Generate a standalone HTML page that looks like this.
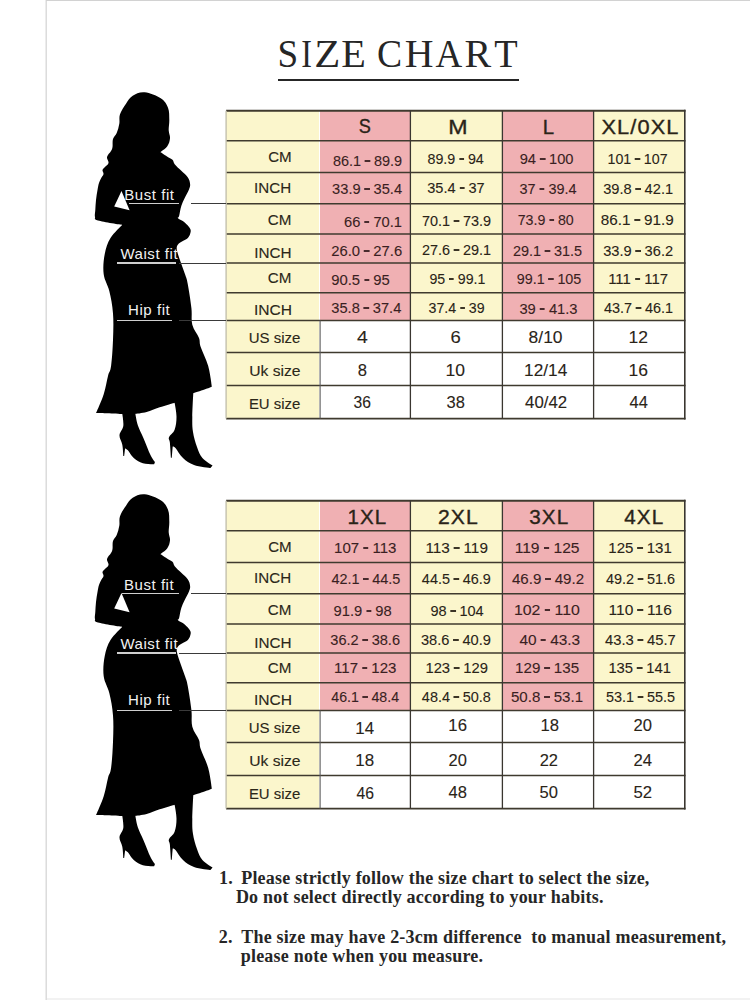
<!DOCTYPE html><html><head><meta charset="utf-8"><style>
html,body{margin:0;padding:0;background:#fff;}
body{width:750px;height:1000px;position:relative;overflow:hidden;font-family:"Liberation Sans", sans-serif;}
.a{position:absolute;white-space:nowrap;}
.c{position:absolute;white-space:nowrap;text-align:center;width:200px;}
.lab{font-family:"Liberation Sans", sans-serif;font-size:14px;line-height:14px;color:#2b2719;-webkit-text-stroke:0.12px #2b2719;}
.num{font-family:"Liberation Sans", sans-serif;font-size:15.2px;line-height:15.2px;color:#2a2418;-webkit-text-stroke:0.1px #2a2418;}
.pk{color:#3a1f22;-webkit-text-stroke-color:#3a1f22;}
.hd{font-family:"Liberation Sans", sans-serif;font-size:20px;line-height:20px;color:#2a2418;letter-spacing:1px;-webkit-text-stroke:0.35px #2a2418;}
.fit{font-family:"Liberation Sans", sans-serif;font-size:15px;line-height:15px;color:#f2f2f2;letter-spacing:0.55px;}
.ttl{font-family:"Liberation Serif", serif;font-size:40px;line-height:40px;color:#262626;}
.note{font-family:"Liberation Serif", serif;font-weight:bold;font-size:18px;line-height:18px;color:#262626;letter-spacing:0.22px;}
.big{font-size:16.5px;line-height:16.5px;-webkit-text-stroke-width:0.1px;}
.d{display:inline-block;width:5.5px;height:2px;background:currentColor;vertical-align:3.87px;margin:0 4px;opacity:0.92}
</style></head><body>
<div class="a" style="left:45px;top:0;width:2px;height:1000px;background:#ececec"></div>
<div class="a" style="left:46px;top:0;width:1px;height:1000px;background:#dcdcdc"></div>
<div class="a" style="left:46px;top:0;width:704px;height:1px;background:#d2d2d2"></div>
<div class="a" style="left:47px;top:998px;width:703px;height:2px;background:#f2f2f2"></div>
<div class="a" style="left:278px;top:78.5px;width:241px;height:2px;background:#262626"></div>
<div class="c ttl" style="left:188.2px;top:33.2px;transform:translate(-0.24px,0.56px) scaleX(0.929);">S</div>
<div class="c ttl" style="left:206.5px;top:33.2px;transform:translate(-0.36px,0.56px) scaleX(0.800);">I</div>
<div class="c ttl" style="left:227.2px;top:33.2px;transform:translate(0.16px,0.56px) scaleX(1.066);">Z</div>
<div class="c ttl" style="left:253.2px;top:33.2px;transform:translate(0.56px,0.56px) scaleX(1.006);">E</div>
<div class="c ttl" style="left:289.2px;top:33.2px;transform:translate(0.56px,0.56px) scaleX(0.941);">C</div>
<div class="c ttl" style="left:319.1px;top:33.2px;transform:translate(0.08px,0.56px) scaleX(0.994);">H</div>
<div class="c ttl" style="left:348.9px;top:33.2px;transform:translate(-0.08px,0.56px) scaleX(0.926);">A</div>
<div class="c ttl" style="left:378.8px;top:33.2px;transform:translate(-0.96px,0.56px) scaleX(1.000);">R</div>
<div class="c ttl" style="left:406.0px;top:33.2px;transform:translate(0.00px,0.56px) scaleX(0.958);">T</div>
<div class="a" style="left:226.1px;top:110.7px;width:93.4px;height:30.1px;background:#fbf6cc"></div>
<div class="a" style="left:319.5px;top:110.7px;width:90.9px;height:30.1px;background:#f0b0b3"></div>
<div class="a" style="left:410.4px;top:110.7px;width:92.0px;height:30.1px;background:#fbf6cc"></div>
<div class="a" style="left:502.4px;top:110.7px;width:91.2px;height:30.1px;background:#f0b0b3"></div>
<div class="a" style="left:593.6px;top:110.7px;width:91.2px;height:30.1px;background:#fbf6cc"></div>
<div class="a" style="left:226.1px;top:140.8px;width:93.4px;height:31.7px;background:#fbf6cc"></div>
<div class="a" style="left:319.5px;top:140.8px;width:90.9px;height:31.7px;background:#f0b0b3"></div>
<div class="a" style="left:410.4px;top:140.8px;width:92.0px;height:31.7px;background:#fbf6cc"></div>
<div class="a" style="left:502.4px;top:140.8px;width:91.2px;height:31.7px;background:#f0b0b3"></div>
<div class="a" style="left:593.6px;top:140.8px;width:91.2px;height:31.7px;background:#fbf6cc"></div>
<div class="a" style="left:226.1px;top:172.5px;width:93.4px;height:31.2px;background:#fbf6cc"></div>
<div class="a" style="left:319.5px;top:172.5px;width:90.9px;height:31.2px;background:#f0b0b3"></div>
<div class="a" style="left:410.4px;top:172.5px;width:92.0px;height:31.2px;background:#fbf6cc"></div>
<div class="a" style="left:502.4px;top:172.5px;width:91.2px;height:31.2px;background:#f0b0b3"></div>
<div class="a" style="left:593.6px;top:172.5px;width:91.2px;height:31.2px;background:#fbf6cc"></div>
<div class="a" style="left:226.1px;top:203.7px;width:93.4px;height:30.4px;background:#fbf6cc"></div>
<div class="a" style="left:319.5px;top:203.7px;width:90.9px;height:30.4px;background:#f0b0b3"></div>
<div class="a" style="left:410.4px;top:203.7px;width:92.0px;height:30.4px;background:#fbf6cc"></div>
<div class="a" style="left:502.4px;top:203.7px;width:91.2px;height:30.4px;background:#f0b0b3"></div>
<div class="a" style="left:593.6px;top:203.7px;width:91.2px;height:30.4px;background:#fbf6cc"></div>
<div class="a" style="left:226.1px;top:234.1px;width:93.4px;height:28.9px;background:#fbf6cc"></div>
<div class="a" style="left:319.5px;top:234.1px;width:90.9px;height:28.9px;background:#f0b0b3"></div>
<div class="a" style="left:410.4px;top:234.1px;width:92.0px;height:28.9px;background:#fbf6cc"></div>
<div class="a" style="left:502.4px;top:234.1px;width:91.2px;height:28.9px;background:#f0b0b3"></div>
<div class="a" style="left:593.6px;top:234.1px;width:91.2px;height:28.9px;background:#fbf6cc"></div>
<div class="a" style="left:226.1px;top:263.0px;width:93.4px;height:29.7px;background:#fbf6cc"></div>
<div class="a" style="left:319.5px;top:263.0px;width:90.9px;height:29.7px;background:#f0b0b3"></div>
<div class="a" style="left:410.4px;top:263.0px;width:92.0px;height:29.7px;background:#fbf6cc"></div>
<div class="a" style="left:502.4px;top:263.0px;width:91.2px;height:29.7px;background:#f0b0b3"></div>
<div class="a" style="left:593.6px;top:263.0px;width:91.2px;height:29.7px;background:#fbf6cc"></div>
<div class="a" style="left:226.1px;top:292.7px;width:93.4px;height:27.9px;background:#fbf6cc"></div>
<div class="a" style="left:319.5px;top:292.7px;width:90.9px;height:27.9px;background:#f0b0b3"></div>
<div class="a" style="left:410.4px;top:292.7px;width:92.0px;height:27.9px;background:#fbf6cc"></div>
<div class="a" style="left:502.4px;top:292.7px;width:91.2px;height:27.9px;background:#f0b0b3"></div>
<div class="a" style="left:593.6px;top:292.7px;width:91.2px;height:27.9px;background:#fbf6cc"></div>
<div class="a" style="left:226.1px;top:320.6px;width:93.4px;height:32.0px;background:#fbf6cc"></div>
<div class="a" style="left:319.5px;top:320.6px;width:90.9px;height:32.0px;background:#ffffff"></div>
<div class="a" style="left:410.4px;top:320.6px;width:92.0px;height:32.0px;background:#ffffff"></div>
<div class="a" style="left:502.4px;top:320.6px;width:91.2px;height:32.0px;background:#ffffff"></div>
<div class="a" style="left:593.6px;top:320.6px;width:91.2px;height:32.0px;background:#ffffff"></div>
<div class="a" style="left:226.1px;top:352.6px;width:93.4px;height:32.8px;background:#fbf6cc"></div>
<div class="a" style="left:319.5px;top:352.6px;width:90.9px;height:32.8px;background:#ffffff"></div>
<div class="a" style="left:410.4px;top:352.6px;width:92.0px;height:32.8px;background:#ffffff"></div>
<div class="a" style="left:502.4px;top:352.6px;width:91.2px;height:32.8px;background:#ffffff"></div>
<div class="a" style="left:593.6px;top:352.6px;width:91.2px;height:32.8px;background:#ffffff"></div>
<div class="a" style="left:226.1px;top:385.4px;width:93.4px;height:33.2px;background:#fbf6cc"></div>
<div class="a" style="left:319.5px;top:385.4px;width:90.9px;height:33.2px;background:#ffffff"></div>
<div class="a" style="left:410.4px;top:385.4px;width:92.0px;height:33.2px;background:#ffffff"></div>
<div class="a" style="left:502.4px;top:385.4px;width:91.2px;height:33.2px;background:#ffffff"></div>
<div class="a" style="left:593.6px;top:385.4px;width:91.2px;height:33.2px;background:#ffffff"></div>
<svg class="a" style="left:0;top:0" width="750" height="1000"><line x1="226.1" y1="110.70" x2="685.5" y2="110.70" stroke="#3f3a2e" stroke-width="1.9"/><line x1="226.1" y1="140.80" x2="685.5" y2="140.80" stroke="#3f3a2e" stroke-width="1.5"/><line x1="226.1" y1="172.50" x2="685.5" y2="172.50" stroke="#3f3a2e" stroke-width="1.5"/><line x1="226.1" y1="203.70" x2="685.5" y2="203.70" stroke="#3f3a2e" stroke-width="1.5"/><line x1="226.1" y1="234.10" x2="685.5" y2="234.10" stroke="#3f3a2e" stroke-width="1.5"/><line x1="226.1" y1="263.00" x2="685.5" y2="263.00" stroke="#3f3a2e" stroke-width="1.5"/><line x1="226.1" y1="292.70" x2="685.5" y2="292.70" stroke="#3f3a2e" stroke-width="1.5"/><line x1="226.1" y1="320.60" x2="685.5" y2="320.60" stroke="#3f3a2e" stroke-width="1.5"/><line x1="226.1" y1="352.60" x2="685.5" y2="352.60" stroke="#3f3a2e" stroke-width="1.5"/><line x1="226.1" y1="385.40" x2="685.5" y2="385.40" stroke="#3f3a2e" stroke-width="1.5"/><line x1="226.1" y1="418.60" x2="685.5" y2="418.60" stroke="#3f3a2e" stroke-width="1.9"/><line x1="226.10" y1="110.7" x2="226.10" y2="418.6" stroke="#c4c1ae" stroke-width="1.4"/><line x1="410.40" y1="110.7" x2="410.40" y2="418.6" stroke="#3a3630" stroke-width="1.3"/><line x1="502.40" y1="110.7" x2="502.40" y2="418.6" stroke="#3a3630" stroke-width="1.3"/><line x1="593.60" y1="110.7" x2="593.60" y2="418.6" stroke="#3a3630" stroke-width="1.3"/><line x1="684.80" y1="109.8" x2="684.80" y2="419.5" stroke="#3a3630" stroke-width="1.6"/><line x1="320.10" y1="320.6" x2="320.10" y2="418.6" stroke="#5a5a5a" stroke-width="1.1"/></svg>
<div class="c hd" style="left:265.2px;top:116px;transform:translateX(0.24px) scaleX(0.906);">S</div>
<div class="c hd" style="left:358.0px;top:117px;transform:translateX(0.40px) scaleX(1.159);">M</div>
<div class="c hd" style="left:449.0px;top:117px;transform:translateX(0.00px) scaleX(1.020);">L</div>
<div class="c hd" style="left:540.1px;top:117px;transform:translateX(0.48px) scaleX(1.088);">XL/0XL</div>
<div class="c lab" style="left:179.4px;top:150px;transform:translateX(0.88px) scaleX(1.079);">CM</div>
<div class="c lab" style="left:173.0px;top:181px;transform:translateX(-0.40px) scaleX(1.084);">INCH</div>
<div class="c lab" style="left:179.5px;top:213px;transform:translateX(-0.40px) scaleX(1.085);">CM</div>
<div class="c lab" style="left:172.9px;top:246px;transform:translateX(-0.16px) scaleX(1.091);">INCH</div>
<div class="c lab" style="left:179.5px;top:271px;transform:translateX(-0.40px) scaleX(1.085);">CM</div>
<div class="c lab" style="left:173.1px;top:303px;transform:translateX(0.08px) scaleX(1.113);">INCH</div>
<div class="c lab" style="left:174.9px;top:331px;transform:translateX(-0.48px) scaleX(1.069);">US size</div>
<div class="c lab" style="left:175.0px;top:364px;transform:translateX(-0.16px) scaleX(1.119);">Uk size</div>
<div class="c lab" style="left:175.0px;top:397px;transform:translateX(-0.40px) scaleX(1.064);">EU size</div>
<div class="c num pk" style="left:267.1px;top:153px;transform:translateX(0.48px) scaleX(0.950);">86.1<i class="d"></i>89.9</div>
<div class="c num" style="left:356.0px;top:151px;transform:translateX(-0.40px) scaleX(0.939);">89.9<i class="d"></i>94</div>
<div class="c num pk" style="left:446.5px;top:151px;transform:translateX(-0.40px) scaleX(0.966);">94<i class="d"></i>100</div>
<div class="c num" style="left:538.1px;top:151px;transform:translateX(-0.48px) scaleX(0.936);">101<i class="d"></i>107</div>
<div class="c num pk" style="left:267.4px;top:181px;transform:translateX(0.08px) scaleX(0.963);">33.9<i class="d"></i>35.4</div>
<div class="c num" style="left:356.0px;top:180px;transform:translateX(0.00px) scaleX(0.958);">35.4<i class="d"></i>37</div>
<div class="c num pk" style="left:448.4px;top:181px;transform:translateX(0.08px) scaleX(0.952);">37<i class="d"></i>39.4</div>
<div class="c num" style="left:538.6px;top:181px;transform:translateX(-0.88px) scaleX(0.963);">39.8<i class="d"></i>42.1</div>
<div class="c num pk" style="left:273.0px;top:214px;transform:translateX(0.00px) scaleX(0.968);">66<i class="d"></i>70.1</div>
<div class="c num" style="left:356.6px;top:213px;transform:translateX(-0.48px) scaleX(0.950);">70.1<i class="d"></i>73.9</div>
<div class="c num pk" style="left:445.9px;top:212px;transform:translateX(-0.32px) scaleX(0.935);">73.9<i class="d"></i>80</div>
<div class="c num" style="left:537.1px;top:212px;transform:translateX(0.32px) scaleX(1.005);">86.1<i class="d"></i>91.9</div>
<div class="c num pk" style="left:266.6px;top:243px;transform:translateX(-0.32px) scaleX(0.977);">26.0<i class="d"></i>27.6</div>
<div class="c num" style="left:356.6px;top:242px;transform:translateX(-0.48px) scaleX(0.950);">27.6<i class="d"></i>29.1</div>
<div class="c num pk" style="left:447.4px;top:243px;transform:translateX(0.48px) scaleX(0.949);">29.1<i class="d"></i>31.5</div>
<div class="c num" style="left:538.6px;top:243px;transform:translateX(-0.88px) scaleX(0.963);">33.9<i class="d"></i>36.2</div>
<div class="c num pk" style="left:260.6px;top:272px;transform:translateX(-0.48px) scaleX(0.976);">90.5<i class="d"></i>95</div>
<div class="c num" style="left:357.2px;top:271px;transform:translateX(0.40px) scaleX(0.933);">95<i class="d"></i>99.1</div>
<div class="c num pk" style="left:449.5px;top:271px;transform:translateX(-0.96px) scaleX(0.943);">99.1<i class="d"></i>105</div>
<div class="c num" style="left:538.6px;top:271px;transform:translateX(-0.88px) scaleX(0.986);">111<i class="d"></i>117</div>
<div class="c num pk" style="left:266.6px;top:300px;transform:translateX(-0.72px) scaleX(0.964);">35.8<i class="d"></i>37.4</div>
<div class="c num" style="left:356.6px;top:300px;transform:translateX(-0.48px) scaleX(0.935);">37.4<i class="d"></i>39</div>
<div class="c num pk" style="left:448.4px;top:301px;transform:translateX(0.48px) scaleX(0.970);">39<i class="d"></i>41.3</div>
<div class="c num" style="left:538.6px;top:300px;transform:translateX(-0.48px) scaleX(0.949);">43.7<i class="d"></i>46.1</div>
<div class="c num big" style="left:262.2px;top:329px;transform:translateX(0.40px) scaleX(1.178);">4</div>
<div class="c num big" style="left:355.6px;top:329px;transform:translateX(-0.48px) scaleX(1.120);">6</div>
<div class="c num big" style="left:445.8px;top:329px;transform:translateX(-0.40px) scaleX(1.057);">8/10</div>
<div class="c num big" style="left:538.6px;top:329px;transform:translateX(-0.72px) scaleX(1.062);">12</div>
<div class="c num big" style="left:262.2px;top:362px;transform:translateX(0.40px) scaleX(1.007);">8</div>
<div class="c num big" style="left:355.6px;top:362px;transform:translateX(-0.72px) scaleX(1.062);">10</div>
<div class="c num big" style="left:445.9px;top:362px;transform:translateX(-0.32px) scaleX(1.044);">12/14</div>
<div class="c num big" style="left:538.6px;top:362px;transform:translateX(-0.72px) scaleX(1.062);">16</div>
<div class="c num big" style="left:262.5px;top:394px;transform:translateX(-0.80px) scaleX(0.948);">36</div>
<div class="c num big" style="left:355.6px;top:394px;transform:translateX(-0.32px) scaleX(0.999);">38</div>
<div class="c num big" style="left:445.9px;top:394px;transform:translateX(0.08px) scaleX(1.019);">40/42</div>
<div class="c num big" style="left:538.6px;top:394px;transform:translateX(-0.32px) scaleX(0.995);">44</div>
<svg class="a" style="left:0;top:80px" width="750" height="420" viewBox="0 0 750 420"><g transform="translate(0,-80)"><path d="M144.70 92.30 C149.74 92.77 156.51 95.53 160.70 98.30 C164.89 101.07 166.45 103.85 168.00 107.70 C169.55 111.55 169.17 115.63 169.30 119.70 C169.43 123.77 168.57 126.95 168.70 130.30 C168.83 133.65 170.25 135.42 170.00 138.30 C169.75 141.18 169.03 143.82 167.30 146.30 C165.57 148.78 160.40 152.10 160.40 152.10 C160.40 152.10 164.82 155.11 167.00 156.50 C169.18 157.89 171.11 158.41 172.50 159.80 C173.89 161.19 173.12 162.22 174.70 164.20 C176.28 166.18 178.92 168.42 181.30 170.80 C183.68 173.18 186.32 175.02 187.90 177.40 C189.48 179.78 189.90 181.82 190.10 184.00 C190.30 186.18 189.99 186.93 189.00 189.50 C188.01 192.07 185.99 195.31 184.60 198.30 C183.21 201.29 182.29 202.91 181.30 206.10 C180.31 209.29 179.69 213.82 179.10 216.00 C178.51 218.18 177.21 217.21 178.00 218.20 C178.79 219.19 181.52 219.92 183.50 221.50 C185.48 223.08 187.70 225.22 189.00 227.00 C190.30 228.78 190.90 229.42 190.70 231.40 C190.50 233.38 189.39 236.22 187.90 238.00 C186.41 239.78 184.18 240.11 182.40 241.30 C180.62 242.49 178.99 243.02 178.00 244.60 C177.01 246.18 176.36 246.79 176.90 250.10 C177.44 253.41 179.49 258.52 181.00 263.00 C182.51 267.48 184.09 271.27 185.30 275.00 C186.51 278.73 186.60 277.78 187.70 283.70 C188.80 289.62 190.57 300.52 191.40 307.90 C192.23 315.28 190.95 319.32 192.30 324.70 C193.65 330.08 197.39 333.77 198.90 337.80 C200.41 341.83 199.03 342.02 200.70 347.10 C202.37 352.18 206.18 358.85 208.20 366.00 C210.22 373.15 211.90 386.80 211.90 386.80 C211.90 386.80 207.85 388.43 204.50 389.60 C201.15 390.77 193.30 393.30 193.30 393.30 C193.30 393.30 192.35 409.73 192.30 416.70 C192.25 423.67 192.15 426.55 193.00 432.00 C193.85 437.45 195.31 442.32 197.00 447.00 C198.69 451.68 199.61 454.67 202.40 458.00 C205.19 461.33 212.50 465.50 212.50 465.50 C212.50 465.50 210.50 468.00 210.50 468.00 C210.50 468.00 198.95 466.80 194.00 465.00 C189.05 463.20 186.33 461.06 183.00 458.00 C179.67 454.94 177.35 450.07 175.50 448.00 C173.65 445.93 172.70 446.50 172.70 446.50 C172.70 446.50 171.80 457.70 171.80 457.70 C171.80 457.70 170.90 457.70 170.90 457.70 C170.90 457.70 170.24 446.49 169.90 442.80 C169.56 439.11 168.15 439.56 169.00 437.20 C169.85 434.84 173.25 433.39 174.60 429.70 C175.95 426.01 176.50 421.56 176.50 416.70 C176.50 411.84 174.60 402.70 174.60 402.70 C174.60 402.70 164.74 405.63 159.70 407.30 C154.66 408.97 150.97 410.81 146.60 412.00 C142.23 413.19 135.40 413.90 135.40 413.90 C135.40 413.90 136.52 421.39 138.00 425.80 C139.48 430.21 141.33 433.11 143.60 438.40 C145.87 443.69 148.55 450.95 150.60 455.20 C152.65 459.45 155.00 462.00 155.00 462.00 C155.00 462.00 154.10 464.30 154.10 464.30 C154.10 464.30 146.61 464.49 142.90 463.30 C139.19 462.11 136.20 460.04 133.50 457.70 C130.80 455.36 129.41 451.97 127.90 450.30 C126.39 448.63 125.10 448.40 125.10 448.40 C125.10 448.40 124.20 455.90 124.20 455.90 C124.20 455.90 123.30 455.90 123.30 455.90 C123.30 455.90 122.98 448.41 122.30 444.70 C121.62 440.99 119.32 438.67 119.50 435.30 C119.68 431.93 122.80 429.85 123.30 426.00 C123.80 422.15 122.30 413.90 122.30 413.90 C122.30 413.90 96.20 412.90 96.20 412.90 C96.20 412.90 101.58 400.94 103.70 394.30 C105.82 387.66 106.67 381.13 108.00 376.00 C109.33 370.87 110.20 372.33 111.10 365.80 C112.00 359.27 112.66 349.11 113.00 339.70 C113.34 330.29 113.67 322.25 113.00 313.50 C112.33 304.75 110.97 298.16 109.30 291.10 C107.63 284.04 104.53 280.94 103.70 274.30 C102.87 267.66 103.48 260.73 104.70 254.20 C105.92 247.67 107.33 243.27 110.50 238.00 C113.67 232.73 122.30 224.90 122.30 224.90 C122.30 224.90 102.91 221.92 98.00 220.50 C93.09 219.08 95.49 218.89 95.00 217.00 C94.51 215.11 95.12 213.06 95.30 210.00 C95.48 206.94 95.60 203.60 96.00 200.00 C96.40 196.40 96.96 193.06 97.50 190.00 C98.04 186.94 98.28 185.25 99.00 183.00 C99.72 180.75 100.69 179.12 101.50 177.50 C102.31 175.88 103.32 175.35 103.50 174.00 C103.68 172.65 102.23 171.26 102.50 170.00 C102.77 168.74 103.92 168.26 105.00 167.00 C106.08 165.74 108.14 164.80 108.50 163.00 C108.86 161.20 106.55 159.16 107.00 157.00 C107.45 154.84 110.01 152.80 111.00 151.00 C111.99 149.20 112.14 149.16 112.50 147.00 C112.86 144.84 112.24 141.52 113.00 139.00 C113.76 136.48 115.57 135.75 116.70 133.00 C117.83 130.25 118.71 127.07 119.30 123.70 C119.89 120.33 118.79 117.90 120.00 114.30 C121.21 110.70 123.71 107.05 126.00 103.70 C128.29 100.35 129.33 97.75 132.70 95.70 C136.07 93.65 139.66 91.83 144.70 92.30Z" fill="#000"/><path d="M121.5 191.1 L114.2 206.5 L129.6 210.2 Z" fill="#fff"/></g></svg>
<div class="c fit" style="left:49.4px;top:187.1px;">Bust fit</div>
<div class="a" style="left:128.9px;top:202.6px;width:49.8px;height:1.6px;background:#cfcfcf"></div>
<div class="a" style="left:190.5px;top:203px;width:35.6px;height:1px;background:#3a3a3a"></div>
<div class="c fit" style="left:49.3px;top:245.8px;">Waist fit</div>
<div class="a" style="left:117.1px;top:262.4px;width:59.4px;height:1.6px;background:#cfcfcf"></div>
<div class="a" style="left:178.5px;top:263px;width:47.6px;height:1px;background:#3a3a3a"></div>
<div class="c fit" style="left:49.2px;top:301.8px;">Hip fit</div>
<div class="a" style="left:116.7px;top:319.6px;width:55.1px;height:1.6px;background:#cfcfcf"></div>
<div class="a" style="left:179.3px;top:320px;width:46.8px;height:1px;background:#3a3a3a"></div>
<div class="a" style="left:226.1px;top:500.7px;width:93.4px;height:30.1px;background:#fbf6cc"></div>
<div class="a" style="left:319.5px;top:500.7px;width:90.9px;height:30.1px;background:#f0b0b3"></div>
<div class="a" style="left:410.4px;top:500.7px;width:92.0px;height:30.1px;background:#fbf6cc"></div>
<div class="a" style="left:502.4px;top:500.7px;width:91.2px;height:30.1px;background:#f0b0b3"></div>
<div class="a" style="left:593.6px;top:500.7px;width:91.2px;height:30.1px;background:#fbf6cc"></div>
<div class="a" style="left:226.1px;top:530.8px;width:93.4px;height:31.7px;background:#fbf6cc"></div>
<div class="a" style="left:319.5px;top:530.8px;width:90.9px;height:31.7px;background:#f0b0b3"></div>
<div class="a" style="left:410.4px;top:530.8px;width:92.0px;height:31.7px;background:#fbf6cc"></div>
<div class="a" style="left:502.4px;top:530.8px;width:91.2px;height:31.7px;background:#f0b0b3"></div>
<div class="a" style="left:593.6px;top:530.8px;width:91.2px;height:31.7px;background:#fbf6cc"></div>
<div class="a" style="left:226.1px;top:562.5px;width:93.4px;height:31.2px;background:#fbf6cc"></div>
<div class="a" style="left:319.5px;top:562.5px;width:90.9px;height:31.2px;background:#f0b0b3"></div>
<div class="a" style="left:410.4px;top:562.5px;width:92.0px;height:31.2px;background:#fbf6cc"></div>
<div class="a" style="left:502.4px;top:562.5px;width:91.2px;height:31.2px;background:#f0b0b3"></div>
<div class="a" style="left:593.6px;top:562.5px;width:91.2px;height:31.2px;background:#fbf6cc"></div>
<div class="a" style="left:226.1px;top:593.7px;width:93.4px;height:30.4px;background:#fbf6cc"></div>
<div class="a" style="left:319.5px;top:593.7px;width:90.9px;height:30.4px;background:#f0b0b3"></div>
<div class="a" style="left:410.4px;top:593.7px;width:92.0px;height:30.4px;background:#fbf6cc"></div>
<div class="a" style="left:502.4px;top:593.7px;width:91.2px;height:30.4px;background:#f0b0b3"></div>
<div class="a" style="left:593.6px;top:593.7px;width:91.2px;height:30.4px;background:#fbf6cc"></div>
<div class="a" style="left:226.1px;top:624.1px;width:93.4px;height:28.9px;background:#fbf6cc"></div>
<div class="a" style="left:319.5px;top:624.1px;width:90.9px;height:28.9px;background:#f0b0b3"></div>
<div class="a" style="left:410.4px;top:624.1px;width:92.0px;height:28.9px;background:#fbf6cc"></div>
<div class="a" style="left:502.4px;top:624.1px;width:91.2px;height:28.9px;background:#f0b0b3"></div>
<div class="a" style="left:593.6px;top:624.1px;width:91.2px;height:28.9px;background:#fbf6cc"></div>
<div class="a" style="left:226.1px;top:653.0px;width:93.4px;height:29.7px;background:#fbf6cc"></div>
<div class="a" style="left:319.5px;top:653.0px;width:90.9px;height:29.7px;background:#f0b0b3"></div>
<div class="a" style="left:410.4px;top:653.0px;width:92.0px;height:29.7px;background:#fbf6cc"></div>
<div class="a" style="left:502.4px;top:653.0px;width:91.2px;height:29.7px;background:#f0b0b3"></div>
<div class="a" style="left:593.6px;top:653.0px;width:91.2px;height:29.7px;background:#fbf6cc"></div>
<div class="a" style="left:226.1px;top:682.7px;width:93.4px;height:27.9px;background:#fbf6cc"></div>
<div class="a" style="left:319.5px;top:682.7px;width:90.9px;height:27.9px;background:#f0b0b3"></div>
<div class="a" style="left:410.4px;top:682.7px;width:92.0px;height:27.9px;background:#fbf6cc"></div>
<div class="a" style="left:502.4px;top:682.7px;width:91.2px;height:27.9px;background:#f0b0b3"></div>
<div class="a" style="left:593.6px;top:682.7px;width:91.2px;height:27.9px;background:#fbf6cc"></div>
<div class="a" style="left:226.1px;top:710.6px;width:93.4px;height:32.0px;background:#fbf6cc"></div>
<div class="a" style="left:319.5px;top:710.6px;width:90.9px;height:32.0px;background:#ffffff"></div>
<div class="a" style="left:410.4px;top:710.6px;width:92.0px;height:32.0px;background:#ffffff"></div>
<div class="a" style="left:502.4px;top:710.6px;width:91.2px;height:32.0px;background:#ffffff"></div>
<div class="a" style="left:593.6px;top:710.6px;width:91.2px;height:32.0px;background:#ffffff"></div>
<div class="a" style="left:226.1px;top:742.6px;width:93.4px;height:32.8px;background:#fbf6cc"></div>
<div class="a" style="left:319.5px;top:742.6px;width:90.9px;height:32.8px;background:#ffffff"></div>
<div class="a" style="left:410.4px;top:742.6px;width:92.0px;height:32.8px;background:#ffffff"></div>
<div class="a" style="left:502.4px;top:742.6px;width:91.2px;height:32.8px;background:#ffffff"></div>
<div class="a" style="left:593.6px;top:742.6px;width:91.2px;height:32.8px;background:#ffffff"></div>
<div class="a" style="left:226.1px;top:775.4px;width:93.4px;height:33.2px;background:#fbf6cc"></div>
<div class="a" style="left:319.5px;top:775.4px;width:90.9px;height:33.2px;background:#ffffff"></div>
<div class="a" style="left:410.4px;top:775.4px;width:92.0px;height:33.2px;background:#ffffff"></div>
<div class="a" style="left:502.4px;top:775.4px;width:91.2px;height:33.2px;background:#ffffff"></div>
<div class="a" style="left:593.6px;top:775.4px;width:91.2px;height:33.2px;background:#ffffff"></div>
<svg class="a" style="left:0;top:0" width="750" height="1000"><line x1="226.1" y1="500.70" x2="685.5" y2="500.70" stroke="#3f3a2e" stroke-width="1.9"/><line x1="226.1" y1="530.80" x2="685.5" y2="530.80" stroke="#3f3a2e" stroke-width="1.5"/><line x1="226.1" y1="562.50" x2="685.5" y2="562.50" stroke="#3f3a2e" stroke-width="1.5"/><line x1="226.1" y1="593.70" x2="685.5" y2="593.70" stroke="#3f3a2e" stroke-width="1.5"/><line x1="226.1" y1="624.10" x2="685.5" y2="624.10" stroke="#3f3a2e" stroke-width="1.5"/><line x1="226.1" y1="653.00" x2="685.5" y2="653.00" stroke="#3f3a2e" stroke-width="1.5"/><line x1="226.1" y1="682.70" x2="685.5" y2="682.70" stroke="#3f3a2e" stroke-width="1.5"/><line x1="226.1" y1="710.60" x2="685.5" y2="710.60" stroke="#3f3a2e" stroke-width="1.5"/><line x1="226.1" y1="742.60" x2="685.5" y2="742.60" stroke="#3f3a2e" stroke-width="1.5"/><line x1="226.1" y1="775.40" x2="685.5" y2="775.40" stroke="#3f3a2e" stroke-width="1.5"/><line x1="226.1" y1="808.60" x2="685.5" y2="808.60" stroke="#3f3a2e" stroke-width="1.9"/><line x1="226.10" y1="500.7" x2="226.10" y2="808.6" stroke="#c4c1ae" stroke-width="1.4"/><line x1="410.40" y1="500.7" x2="410.40" y2="808.6" stroke="#3a3630" stroke-width="1.3"/><line x1="502.40" y1="500.7" x2="502.40" y2="808.6" stroke="#3a3630" stroke-width="1.3"/><line x1="593.60" y1="500.7" x2="593.60" y2="808.6" stroke="#3a3630" stroke-width="1.3"/><line x1="684.80" y1="499.8" x2="684.80" y2="809.5" stroke="#3a3630" stroke-width="1.6"/><line x1="320.10" y1="710.6" x2="320.10" y2="808.6" stroke="#5a5a5a" stroke-width="1.1"/></svg>
<div class="c hd" style="left:267.5px;top:507px;transform:translateX(-0.64px) scaleX(1.026);">1XL</div>
<div class="c hd" style="left:358.1px;top:507px;transform:translateX(0.32px) scaleX(1.057);">2XL</div>
<div class="c hd" style="left:448.7px;top:507px;transform:translateX(0.24px) scaleX(1.032);">3XL</div>
<div class="c hd" style="left:543.5px;top:507px;transform:translateX(0.24px) scaleX(1.032);">4XL</div>
<div class="c lab" style="left:179.4px;top:540px;transform:translateX(0.88px) scaleX(1.079);">CM</div>
<div class="c lab" style="left:173.0px;top:571px;transform:translateX(-0.40px) scaleX(1.084);">INCH</div>
<div class="c lab" style="left:179.5px;top:603px;transform:translateX(-0.40px) scaleX(1.085);">CM</div>
<div class="c lab" style="left:172.9px;top:636px;transform:translateX(-0.16px) scaleX(1.091);">INCH</div>
<div class="c lab" style="left:179.5px;top:661px;transform:translateX(-0.40px) scaleX(1.085);">CM</div>
<div class="c lab" style="left:173.1px;top:693px;transform:translateX(0.08px) scaleX(1.113);">INCH</div>
<div class="c lab" style="left:174.9px;top:721px;transform:translateX(-0.48px) scaleX(1.069);">US size</div>
<div class="c lab" style="left:175.0px;top:754px;transform:translateX(-0.16px) scaleX(1.119);">Uk size</div>
<div class="c lab" style="left:175.0px;top:787px;transform:translateX(-0.40px) scaleX(1.064);">EU size</div>
<div class="c num pk" style="left:265.2px;top:540px;transform:translateX(0.24px) scaleX(0.990);">107<i class="d"></i>113</div>
<div class="c num" style="left:356.6px;top:540px;transform:translateX(-0.32px) scaleX(1.008);">113<i class="d"></i>119</div>
<div class="c num pk" style="left:447.4px;top:540px;transform:translateX(0.08px) scaleX(1.029);">119<i class="d"></i>125</div>
<div class="c num" style="left:540.1px;top:540px;transform:translateX(0.08px) scaleX(0.990);">125<i class="d"></i>131</div>
<div class="c num pk" style="left:265.7px;top:571px;transform:translateX(-0.16px) scaleX(0.949);">42.1<i class="d"></i>44.5</div>
<div class="c num" style="left:356.1px;top:571px;transform:translateX(0.32px) scaleX(0.949);">44.5<i class="d"></i>46.9</div>
<div class="c num pk" style="left:447.8px;top:571px;transform:translateX(0.00px) scaleX(0.994);">46.9<i class="d"></i>49.2</div>
<div class="c num" style="left:540.6px;top:571px;transform:translateX(-0.48px) scaleX(0.949);">49.2<i class="d"></i>51.6</div>
<div class="c num pk" style="left:262.5px;top:603px;transform:translateX(-0.40px) scaleX(0.971);">91.9<i class="d"></i>98</div>
<div class="c num" style="left:357.2px;top:603px;transform:translateX(0.00px) scaleX(0.955);">98<i class="d"></i>104</div>
<div class="c num pk" style="left:447.7px;top:602px;transform:translateX(-1.12px) scaleX(1.045);">102<i class="d"></i>110</div>
<div class="c num" style="left:540.5px;top:602px;transform:translateX(-0.80px) scaleX(1.022);">110<i class="d"></i>116</div>
<div class="c num pk" style="left:265.3px;top:632px;transform:translateX(0.16px) scaleX(0.960);">36.2<i class="d"></i>38.6</div>
<div class="c num" style="left:356.1px;top:632px;transform:translateX(-0.08px) scaleX(0.963);">38.6<i class="d"></i>40.9</div>
<div class="c num pk" style="left:449.5px;top:632px;transform:translateX(-0.24px) scaleX(1.013);">40<i class="d"></i>43.3</div>
<div class="c num" style="left:540.2px;top:632px;transform:translateX(0.40px) scaleX(0.975);">43.3<i class="d"></i>45.7</div>
<div class="c num pk" style="left:265.2px;top:660px;transform:translateX(0.24px) scaleX(0.990);">117<i class="d"></i>123</div>
<div class="c num" style="left:356.6px;top:660px;transform:translateX(-0.32px) scaleX(0.974);">123<i class="d"></i>129</div>
<div class="c num pk" style="left:447.4px;top:660px;transform:translateX(0.08px) scaleX(0.997);">129<i class="d"></i>135</div>
<div class="c num" style="left:539.9px;top:660px;transform:translateX(-0.32px) scaleX(0.975);">135<i class="d"></i>141</div>
<div class="c num pk" style="left:265.3px;top:689px;transform:translateX(0.16px) scaleX(0.933);">46.1<i class="d"></i>48.4</div>
<div class="c num" style="left:356.1px;top:689px;transform:translateX(0.32px) scaleX(0.949);">48.4<i class="d"></i>50.8</div>
<div class="c num pk" style="left:447.0px;top:689px;transform:translateX(0.00px) scaleX(0.993);">50.8<i class="d"></i>53.1</div>
<div class="c num" style="left:540.8px;top:689px;transform:translateX(-0.48px) scaleX(0.949);">53.1<i class="d"></i>55.5</div>
<div class="c num big" style="left:265.1px;top:720px;transform:translateX(-0.24px) scaleX(1.024);">14</div>
<div class="c num big" style="left:358.1px;top:717px;transform:translateX(-0.32px) scaleX(1.013);">16</div>
<div class="c num big" style="left:450.0px;top:717px;transform:translateX(-0.16px) scaleX(1.010);">18</div>
<div class="c num big" style="left:542.8px;top:717px;transform:translateX(-0.24px) scaleX(1.005);">20</div>
<div class="c num big" style="left:265.1px;top:752px;transform:translateX(-0.24px) scaleX(1.028);">18</div>
<div class="c num big" style="left:358.1px;top:752px;transform:translateX(-0.32px) scaleX(0.999);">20</div>
<div class="c num big" style="left:448.7px;top:752px;transform:translateX(-0.16px) scaleX(0.997);">22</div>
<div class="c num big" style="left:543.0px;top:752px;transform:translateX(-0.24px) scaleX(1.009);">24</div>
<div class="c num big" style="left:265.1px;top:785px;transform:translateX(0.16px) scaleX(0.953);">46</div>
<div class="c num big" style="left:357.9px;top:784px;transform:translateX(-0.32px) scaleX(1.004);">48</div>
<div class="c num big" style="left:449.0px;top:784px;transform:translateX(-0.24px) scaleX(1.002);">50</div>
<div class="c num big" style="left:543.0px;top:784px;transform:translateX(-0.24px) scaleX(1.013);">52</div>
<svg class="a" style="left:0;top:482px" width="750" height="420" viewBox="0 0 750 420"><g transform="translate(0,-80)"><path d="M144.70 92.30 C149.74 92.77 156.51 95.53 160.70 98.30 C164.89 101.07 166.45 103.85 168.00 107.70 C169.55 111.55 169.17 115.63 169.30 119.70 C169.43 123.77 168.57 126.95 168.70 130.30 C168.83 133.65 170.25 135.42 170.00 138.30 C169.75 141.18 169.03 143.82 167.30 146.30 C165.57 148.78 160.40 152.10 160.40 152.10 C160.40 152.10 164.82 155.11 167.00 156.50 C169.18 157.89 171.11 158.41 172.50 159.80 C173.89 161.19 173.12 162.22 174.70 164.20 C176.28 166.18 178.92 168.42 181.30 170.80 C183.68 173.18 186.32 175.02 187.90 177.40 C189.48 179.78 189.90 181.82 190.10 184.00 C190.30 186.18 189.99 186.93 189.00 189.50 C188.01 192.07 185.99 195.31 184.60 198.30 C183.21 201.29 182.29 202.91 181.30 206.10 C180.31 209.29 179.69 213.82 179.10 216.00 C178.51 218.18 177.21 217.21 178.00 218.20 C178.79 219.19 181.52 219.92 183.50 221.50 C185.48 223.08 187.70 225.22 189.00 227.00 C190.30 228.78 190.90 229.42 190.70 231.40 C190.50 233.38 189.39 236.22 187.90 238.00 C186.41 239.78 184.18 240.11 182.40 241.30 C180.62 242.49 178.99 243.02 178.00 244.60 C177.01 246.18 176.36 246.79 176.90 250.10 C177.44 253.41 179.49 258.52 181.00 263.00 C182.51 267.48 184.09 271.27 185.30 275.00 C186.51 278.73 186.60 277.78 187.70 283.70 C188.80 289.62 190.57 300.52 191.40 307.90 C192.23 315.28 190.95 319.32 192.30 324.70 C193.65 330.08 197.39 333.77 198.90 337.80 C200.41 341.83 199.03 342.02 200.70 347.10 C202.37 352.18 206.18 358.85 208.20 366.00 C210.22 373.15 211.90 386.80 211.90 386.80 C211.90 386.80 207.85 388.43 204.50 389.60 C201.15 390.77 193.30 393.30 193.30 393.30 C193.30 393.30 192.35 409.73 192.30 416.70 C192.25 423.67 192.15 426.55 193.00 432.00 C193.85 437.45 195.31 442.32 197.00 447.00 C198.69 451.68 199.61 454.67 202.40 458.00 C205.19 461.33 212.50 465.50 212.50 465.50 C212.50 465.50 210.50 468.00 210.50 468.00 C210.50 468.00 198.95 466.80 194.00 465.00 C189.05 463.20 186.33 461.06 183.00 458.00 C179.67 454.94 177.35 450.07 175.50 448.00 C173.65 445.93 172.70 446.50 172.70 446.50 C172.70 446.50 171.80 457.70 171.80 457.70 C171.80 457.70 170.90 457.70 170.90 457.70 C170.90 457.70 170.24 446.49 169.90 442.80 C169.56 439.11 168.15 439.56 169.00 437.20 C169.85 434.84 173.25 433.39 174.60 429.70 C175.95 426.01 176.50 421.56 176.50 416.70 C176.50 411.84 174.60 402.70 174.60 402.70 C174.60 402.70 164.74 405.63 159.70 407.30 C154.66 408.97 150.97 410.81 146.60 412.00 C142.23 413.19 135.40 413.90 135.40 413.90 C135.40 413.90 136.52 421.39 138.00 425.80 C139.48 430.21 141.33 433.11 143.60 438.40 C145.87 443.69 148.55 450.95 150.60 455.20 C152.65 459.45 155.00 462.00 155.00 462.00 C155.00 462.00 154.10 464.30 154.10 464.30 C154.10 464.30 146.61 464.49 142.90 463.30 C139.19 462.11 136.20 460.04 133.50 457.70 C130.80 455.36 129.41 451.97 127.90 450.30 C126.39 448.63 125.10 448.40 125.10 448.40 C125.10 448.40 124.20 455.90 124.20 455.90 C124.20 455.90 123.30 455.90 123.30 455.90 C123.30 455.90 122.98 448.41 122.30 444.70 C121.62 440.99 119.32 438.67 119.50 435.30 C119.68 431.93 122.80 429.85 123.30 426.00 C123.80 422.15 122.30 413.90 122.30 413.90 C122.30 413.90 96.20 412.90 96.20 412.90 C96.20 412.90 101.58 400.94 103.70 394.30 C105.82 387.66 106.67 381.13 108.00 376.00 C109.33 370.87 110.20 372.33 111.10 365.80 C112.00 359.27 112.66 349.11 113.00 339.70 C113.34 330.29 113.67 322.25 113.00 313.50 C112.33 304.75 110.97 298.16 109.30 291.10 C107.63 284.04 104.53 280.94 103.70 274.30 C102.87 267.66 103.48 260.73 104.70 254.20 C105.92 247.67 107.33 243.27 110.50 238.00 C113.67 232.73 122.30 224.90 122.30 224.90 C122.30 224.90 102.91 221.92 98.00 220.50 C93.09 219.08 95.49 218.89 95.00 217.00 C94.51 215.11 95.12 213.06 95.30 210.00 C95.48 206.94 95.60 203.60 96.00 200.00 C96.40 196.40 96.96 193.06 97.50 190.00 C98.04 186.94 98.28 185.25 99.00 183.00 C99.72 180.75 100.69 179.12 101.50 177.50 C102.31 175.88 103.32 175.35 103.50 174.00 C103.68 172.65 102.23 171.26 102.50 170.00 C102.77 168.74 103.92 168.26 105.00 167.00 C106.08 165.74 108.14 164.80 108.50 163.00 C108.86 161.20 106.55 159.16 107.00 157.00 C107.45 154.84 110.01 152.80 111.00 151.00 C111.99 149.20 112.14 149.16 112.50 147.00 C112.86 144.84 112.24 141.52 113.00 139.00 C113.76 136.48 115.57 135.75 116.70 133.00 C117.83 130.25 118.71 127.07 119.30 123.70 C119.89 120.33 118.79 117.90 120.00 114.30 C121.21 110.70 123.71 107.05 126.00 103.70 C128.29 100.35 129.33 97.75 132.70 95.70 C136.07 93.65 139.66 91.83 144.70 92.30Z" fill="#000"/><path d="M121.5 191.1 L114.2 206.5 L129.6 210.2 Z" fill="#fff"/></g></svg>
<div class="c fit" style="left:49.1px;top:576.9px;">Bust fit</div>
<div class="a" style="left:122.0px;top:592.7px;width:57.2px;height:1.6px;background:#cfcfcf"></div>
<div class="a" style="left:190.5px;top:593px;width:35.6px;height:1px;background:#3a3a3a"></div>
<div class="c fit" style="left:49.3px;top:635.8px;">Waist fit</div>
<div class="a" style="left:117.1px;top:652.4px;width:59.4px;height:1.6px;background:#cfcfcf"></div>
<div class="a" style="left:178.5px;top:653px;width:47.6px;height:1px;background:#3a3a3a"></div>
<div class="c fit" style="left:49.2px;top:691.8px;">Hip fit</div>
<div class="a" style="left:116.7px;top:709.6px;width:55.1px;height:1.6px;background:#cfcfcf"></div>
<div class="a" style="left:179.3px;top:710px;width:46.8px;height:1px;background:#3a3a3a"></div>
<div class="a note" style="left:219.0px;top:869.2px;">1.</div>
<div class="a note" style="left:241.2px;top:869.2px;">Please strictly follow the size chart to select the size,</div>
<div class="a note" style="left:235.9px;top:888.1px;">Do not select directly according to your habits.</div>
<div class="a note" style="left:218.7px;top:928.1px;">2.</div>
<div class="a note" style="left:241.2px;top:928.1px;">The size may have 2-3cm difference&nbsp; to manual measurement,</div>
<div class="a note" style="left:240.7px;top:947.3px;">please note when you measure.</div>
</body></html>
